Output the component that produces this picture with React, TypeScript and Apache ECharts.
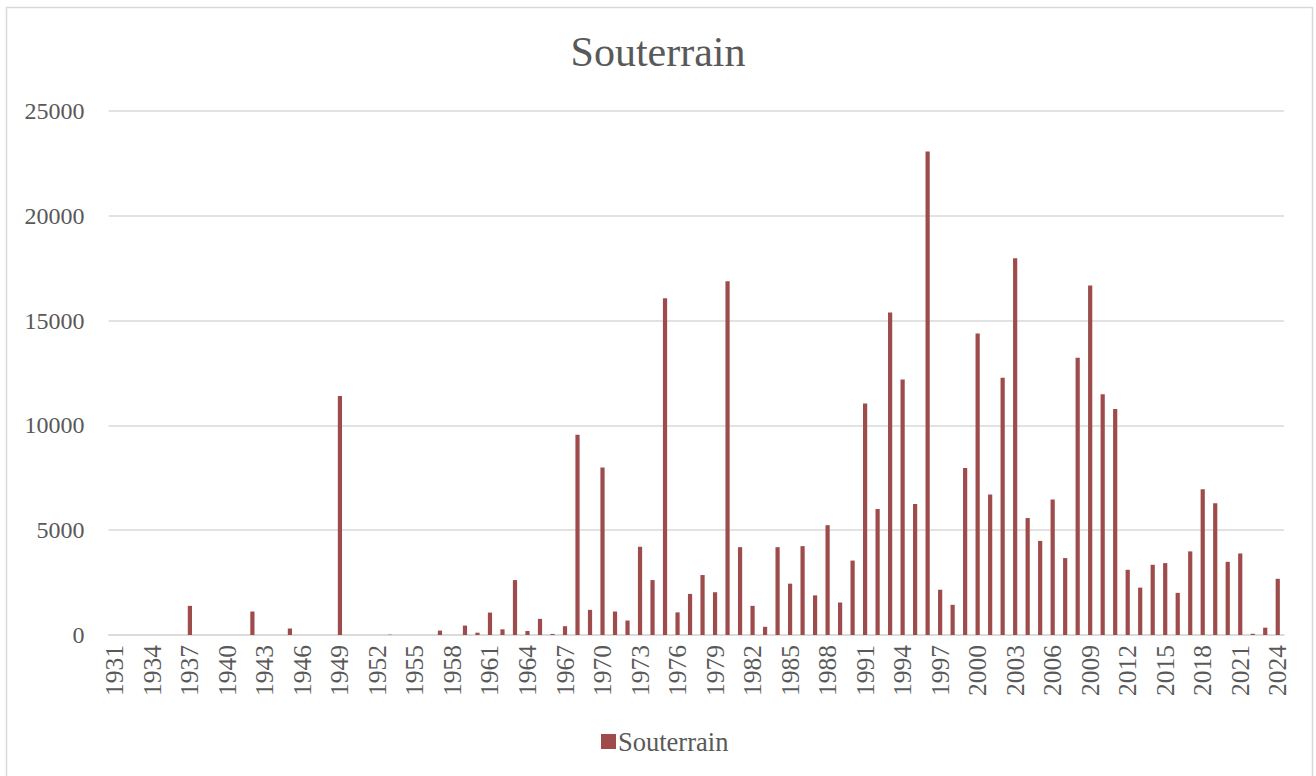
import React, { useEffect, useRef } from "react";
import * as echarts from "echarts";

const years: string[] = [
  "1931", "1932", "1933", "1934", "1935", "1936", "1937", "1938", "1939", "1940",
  "1941", "1942", "1943", "1944", "1945", "1946", "1947", "1948", "1949", "1950",
  "1951", "1952", "1953", "1954", "1955", "1956", "1957", "1958", "1959", "1960",
  "1961", "1962", "1963", "1964", "1965", "1966", "1967", "1968", "1969", "1970",
  "1971", "1972", "1973", "1974", "1975", "1976", "1977", "1978", "1979", "1980",
  "1981", "1982", "1983", "1984", "1985", "1986", "1987", "1988", "1989", "1990",
  "1991", "1992", "1993", "1994", "1995", "1996", "1997", "1998", "1999", "2000",
  "2001", "2002", "2003", "2004", "2005", "2006", "2007", "2008", "2009", "2010",
  "2011", "2012", "2013", "2014", "2015", "2016", "2017", "2018", "2019", "2020",
  "2021", "2022", "2023", "2024",
];

const souterrain: number[] = [
  0, 0, 0, 0, 0, 0, 1390, 0, 0, 0,
  0, 1120, 0, 0, 310, 0, 0, 0, 11400, 0,
  0, 0, 15, 0, 0, 0, 210, 0, 450, 110,
  1070, 270, 2620, 190, 770, 50, 420, 9550, 1200, 7990,
  1120, 690, 4210, 2620, 16070, 1080, 1960, 2860, 2040, 16880,
  4190, 1390, 390, 4190, 2450, 4240, 1890, 5240, 1550, 3550,
  11040, 6010, 15390, 12190, 6250, 23070, 2160, 1440, 7970, 14380,
  6700, 12270, 17970, 5580, 4490, 6460, 3670, 13230, 16680, 11490,
  10780, 3110, 2260, 3350, 3430, 2010, 3990, 6950, 6280, 3490,
  3890, 60, 350, 2680,
];

const yTicks = { min: 0, max: 25000, interval: 5000 };
const seriesName = "Souterrain";
const titleText = "Souterrain";

const FONT = "'Liberation Serif', 'Times New Roman', serif";
const TEXT = "#595959";
const GRID = "#d9d9d9";
const BAR = "#9e4b4b";

export default function App() {
  const ref = useRef<HTMLDivElement>(null);
  useEffect(() => {
    if (!ref.current) return;
    const chart = echarts.init(ref.current, undefined, { renderer: "svg" });
    chart.setOption({
      animation: false,
      backgroundColor: "#ffffff",
      textStyle: { fontFamily: FONT, color: TEXT },
      title: {
        text: titleText,
        left: "center",
        top: 26,
        textStyle: { fontFamily: FONT, fontSize: 42, fontWeight: "normal", color: TEXT },
      },
      legend: {
        data: [seriesName],
        left: 596,
        top: 723,
        icon: "rect",
        itemWidth: 15,
        itemHeight: 15,
        itemGap: 6,
        textStyle: { fontFamily: FONT, fontSize: 26.5, color: TEXT, padding: [0, 0, 0, -3] },
      },
      grid: { left: 108.6, right: 32, top: 111, bottom: 141, containLabel: false },
      xAxis: {
        type: "category",
        data: years,
        axisLine: { show: true, lineStyle: { color: GRID, width: 1.5 } },
        axisTick: { show: false },
        axisLabel: {
          interval: 2,
          rotate: 90,
          margin: 10,
          fontFamily: FONT,
          fontSize: 25.5,
          color: TEXT,
        },
      },
      yAxis: {
        type: "value",
        min: yTicks.min,
        max: yTicks.max,
        interval: yTicks.interval,
        axisLine: { show: false },
        axisTick: { show: false },
        splitLine: { lineStyle: { color: GRID, width: 1.5 } },
        axisLabel: {
          margin: 24,
          fontFamily: FONT,
          fontSize: 24,
          color: TEXT,
          formatter: (v: number) => String(v),
        },
      },
      series: [
        {
          name: seriesName,
          type: "bar",
          data: souterrain,
          barWidth: 4.2,
          itemStyle: { color: BAR },
        },
      ],
      graphic: [
        {
          type: "rect",
          shape: { x: 6.5, y: 7.5, width: 1306, height: 800 },
          style: { fill: "none", stroke: GRID, lineWidth: 1.5 },
          silent: true,
        },
      ],
    });
    return () => chart.dispose();
  }, []);
  return (
    <div
      ref={ref}
      style={{ position: "fixed", left: 0, top: 0, width: 1316, height: 776 }}
    />
  );
}
